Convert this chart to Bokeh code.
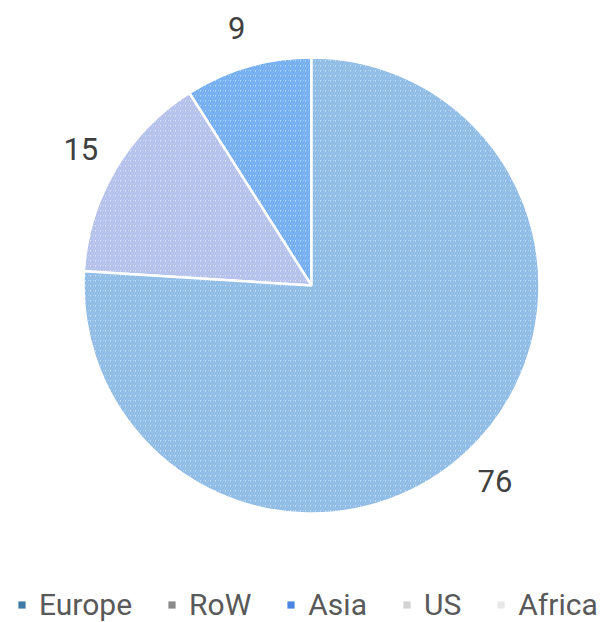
import math
import numpy as np
from bokeh.plotting import figure
from bokeh.models import Range1d, Legend, LegendItem, ColumnDataSource
from bokeh.core.properties import value
from bokeh.embed import file_html
from bokeh.resources import INLINE

# ---- data ----
categories = ["Europe", "RoW", "Asia", "US", "Africa"]
values = [76, 0, 9, 15, 0]
legend_colors = ["#3d7ca8", "#8a8a8a", "#4a86e0", "#d2d2d2", "#e8e8e8"]
slice_fill = ["#c4e0f8", "#9a9a9a", "#b4daff", "#dce3f8", "#eeeeee"]
slice_hatch = ["#8dbae4", "#777777", "#72acf0", "#b2bfea", "#dddddd"]

# ---- geometry ----
CX, CY = 311, 285          # pie centre in page pixels
R = 228
LABEL_R = 268
W, H = 605, 622

p = figure(width=W, height=H, output_backend="svg", toolbar_location=None,
           x_range=Range1d(-CX, W - CX),
           y_range=Range1d(-(H - CY), CY),
           min_border=0, outline_line_color=None)
p.axis.visible = False
p.grid.visible = False
p.background_fill_color = "white"
p.border_fill_color = "white"

# slices drawn anticlockwise from 12 o'clock, smallest first
order = sorted(range(len(values)), key=lambda i: values[i])
total = float(sum(values))
ang = math.pi / 2
starts, ends, fills, hatches, labels, lx, ly = [], [], [], [], [], [], []
for i in order:
    if values[i] <= 0:
        continue
    a = values[i] / total * 2 * math.pi
    s, e = ang, ang + a
    starts.append(s); ends.append(e)
    fills.append(slice_fill[i]); hatches.append(slice_hatch[i])
    mid = (s + e) / 2
    labels.append(str(values[i]))
    lx.append(LABEL_R * math.cos(mid)); ly.append(LABEL_R * math.sin(mid))
    ang = e

src = ColumnDataSource(dict(x=[0] * len(starts), y=[0] * len(starts), s=starts, e=ends,
                            fill=fills, hatch=hatches))
p.wedge(x="x", y="y", radius=R, start_angle="s", end_angle="e", source=src,
        fill_color="fill", line_color="white", line_width=2.5,
        hatch_pattern="/", hatch_color="hatch", hatch_scale=5, hatch_weight=2)

p.text(x=lx, y=ly, text=labels, text_align="center", text_baseline="middle",
       text_font=value("Roboto"), text_font_size="31px", text_color="#404040")

# legend
items = []
for c, col in zip(categories, legend_colors):
    r = p.quad(left=[np.nan], right=[np.nan], top=[np.nan], bottom=[np.nan],
               fill_color=col, line_color=None)
    items.append(LegendItem(label=c, renderers=[r]))

legend = Legend(items=items, orientation="horizontal", location=(17, 0),
                glyph_width=9, glyph_height=9, label_standoff=13, spacing=35,
                label_text_font="Roboto", label_text_font_size="30px",
                label_text_color="#595959", label_text_baseline="middle",
                background_fill_alpha=0, border_line_alpha=0, padding=0, margin=0)
p.add_layout(legend)

open("out.html", "w").write(file_html(p, INLINE))
